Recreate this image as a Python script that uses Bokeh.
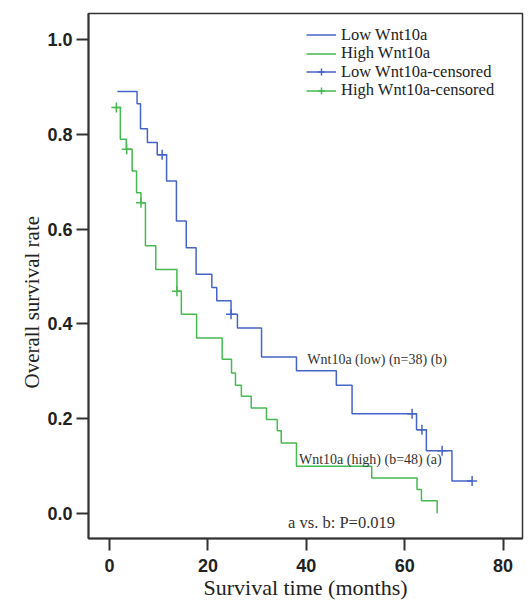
import math
from bokeh.plotting import figure
from bokeh.models import Legend, LegendItem, Label, FixedTicker, PrintfTickFormatter, Range1d
from bokeh.embed import file_html
from bokeh.resources import INLINE

# ---- data ----
# Low Wnt10a (n=38): Kaplan-Meier step curve (time in months, survival)
low_times = [1.6, 5.6, 6.3, 7.7, 9.7, 11.6, 13.6, 15.6, 17.6, 20.8, 21.8, 24.7, 26.0,
             30.9, 38.0, 46.1, 49.3, 62.4, 64.4, 69.6, 73.7]
low_surv = [0.891, 0.865, 0.812, 0.783, 0.757, 0.702, 0.617, 0.561, 0.505, 0.477, 0.449,
            0.420, 0.391, 0.330, 0.301, 0.270, 0.210, 0.176, 0.132, 0.068, 0.068]
low_cens_t = [10.7, 24.7, 61.5, 63.5, 67.6, 73.7]
low_cens_s = [0.757, 0.420, 0.210, 0.176, 0.132, 0.068]

# High Wnt10a (n=48)
high_times = [0.9, 2.2, 3.4, 4.6, 5.5, 6.4, 7.3, 9.4, 13.7, 14.6, 17.7, 22.9, 24.8, 25.6,
              26.8, 28.8, 31.9, 34.1, 34.9, 38.0, 53.3, 62.5, 63.4, 66.6]
high_surv = [0.857, 0.790, 0.769, 0.723, 0.677, 0.656, 0.565, 0.515, 0.469, 0.420, 0.370,
             0.325, 0.296, 0.270, 0.247, 0.222, 0.198, 0.174, 0.148, 0.099, 0.074, 0.050,
             0.026, 0.0]
high_cens_t = [1.4, 3.5, 6.4, 13.7]
high_cens_s = [0.857, 0.769, 0.656, 0.469]

series_labels = ["Low Wnt10a", "High Wnt10a", "Low Wnt10a-censored", "High Wnt10a-censored"]
x_ticks = [0, 20, 40, 60, 80]
y_ticks = [0.0, 0.2, 0.4, 0.6, 0.8, 1.0]

note_low = "Wnt10a (low) (n=38) (b)"
note_high = "Wnt10a (high) (b=48) (a)"
note_p = "a vs. b: P=0.019"
note_low_pos = (40.2, 0.325)
note_high_pos = (38.5, 0.113)
note_p_pos = (36.3, -0.019)

BLUE = "#4664c8"
GREEN = "#46b950"
SERIF = "Liberation Serif"

p = figure(width=532, height=602, output_backend="svg", toolbar_location=None,
           x_range=Range1d(-4.27, 83.94), y_range=Range1d(-0.0536, 1.0557),
           min_border_left=88, min_border_right=10, min_border_top=13, min_border_bottom=5,
           background_fill_color="white", border_fill_color="white")

p.xgrid.visible = False
p.ygrid.visible = False
p.outline_line_color = "#333333"
p.outline_line_width = 1.5

r_low = p.step(low_times, low_surv, mode="after", line_color=BLUE, line_width=1.5)
r_high = p.step(high_times, high_surv, mode="after", line_color=GREEN, line_width=1.5)
c_low = p.scatter(low_cens_t, low_cens_s, marker="cross", size=10, line_color=BLUE, line_width=1.5)
c_high = p.scatter(high_cens_t, high_cens_s, marker="cross", size=10, line_color=GREEN, line_width=1.5)

for ax in (p.xaxis[0], p.yaxis[0]):
    ax.axis_line_color = "#333333"
    ax.axis_line_width = 2
    ax.major_tick_line_color = "#333333"
    ax.major_tick_line_width = 2
    ax.major_tick_in = 0
    ax.minor_tick_line_color = None
    ax.major_label_text_font = "Liberation Sans"
    ax.major_label_text_font_style = "bold"
    ax.major_label_text_font_size = "18px"
    ax.major_label_text_color = "#222222"
    ax.axis_label_text_font = SERIF
    ax.axis_label_text_font_style = "normal"
    ax.axis_label_text_color = "#222222"
    ax.axis_label_standoff = 0

p.xaxis.ticker = FixedTicker(ticks=x_ticks)
p.yaxis.ticker = FixedTicker(ticks=y_ticks)
p.yaxis.formatter = PrintfTickFormatter(format="%.1f")
p.xaxis.major_tick_out = 12
p.xaxis.major_label_standoff = 8
p.yaxis.major_tick_out = 12
p.yaxis.major_label_standoff = 4

p.xaxis.axis_label = "Survival time (months)"
p.xaxis.axis_label_text_font_size = "22px"
# trailing no-break spaces push the (bottom-to-top) title a little lower, as in the reference
p.yaxis.axis_label = "Overall survival rate" + "\u00a0" * 10
p.yaxis.axis_label_text_font_size = "21px"

for txt, pos, size in ((note_low, note_low_pos, "14px"), (note_high, note_high_pos, "14px"),
                       (note_p, note_p_pos, "16.5px")):
    p.add_layout(Label(x=pos[0], y=pos[1], text=txt, text_align="left", text_baseline="middle",
                       text_font=SERIF, text_font_size=size, text_color="#333333"))

# one legend per row so the rows can sit as tightly as in the reference
legend_rows = [
    (series_labels[0], [r_low], 493.5),
    (series_labels[1], [r_high], 475),
    (series_labels[2], [r_low, c_low], 456.5),
    (series_labels[3], [r_high, c_high], 438),
]
for lab, rends, ypos in legend_rows:
    lg = Legend(items=[LegendItem(label=lab, renderers=rends)], location=(218, ypos),
                background_fill_alpha=0, border_line_alpha=0, padding=0, margin=0, spacing=0,
                glyph_width=30, glyph_height=17, label_height=17, label_standoff=5,
                label_text_font=SERIF, label_text_font_size="16.5px",
                label_text_color="#222222")
    p.add_layout(lg)

open("out.html", "w").write(file_html(p, INLINE))
